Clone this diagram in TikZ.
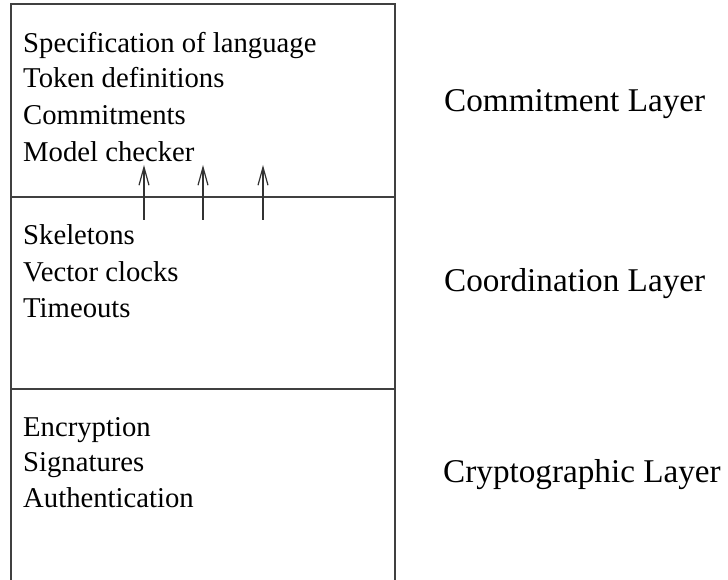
\documentclass[tikz,border=0pt]{standalone}
\usepackage{fontspec}
\setmainfont{Liberation Serif}
\usetikzlibrary{arrows.meta}
\tikzset{
  frame/.style={line width=1.2pt, draw=black!75},
  item/.style={anchor=base west, inner sep=0pt, font=\fontsize{28.7}{36}\selectfont},
  layer/.style={anchor=base west, inner sep=0pt, font=\fontsize{33.2}{40}\selectfont},
  uparrow/.style={line width=1.2pt, draw=black!80, -{Straight Barb[length=18pt, width=10pt, line width=1.2pt]}}
}
\begin{document}
\begin{tikzpicture}[x=1pt, y=1pt]
\useasboundingbox (0,0) rectangle (728,580);

% Drawing outer frame (open at the bottom)
\draw [frame] (11,0) -- (11,576) -- (395,576) -- (395,0);

% Drawing layer borders
\draw [frame] (11,383) -- (395,383);
\draw [frame] (11,191) -- (395,191);

% Commitment layer items
\node [item] (spec) at (23,527) {Specification of language};
\node [item] (token) at (23,492) {Token definitions};
\node [item] (commit) at (23,455) {Commitments};
\node [item] (model) at (23,418) {Model checker};

% Coordination layer items
\node [item] (skel) at (23,335) {Skeletons};
\node [item] (vclock) at (23,298) {Vector clocks};
\node [item] (tout) at (23,262) {Timeouts};

% Cryptographic layer items
\node [item] (encr) at (23,143) {Encryption};
\node [item] (sign) at (23,108) {Signatures};
\node [item] (auth) at (23,72) {Authentication};

% Layer names
\node [layer] (commitlayer) at (444,468) {Commitment Layer};
\node [layer] (coordlayer) at (444,288) {Coordination Layer};
\node [layer] (cryptolayer) at (443,97) {Cryptographic Layer};

% Arrows from coordination up into commitment layer
\coordinate (a1) at (144,360);
\coordinate (b1) at (144,415);
\coordinate (a2) at (203,360);
\coordinate (b2) at (203,415);
\coordinate (a3) at (263,360);
\coordinate (b3) at (263,415);
\draw [uparrow] (a1) -- (b1);
\draw [uparrow] (a2) -- (b2);
\draw [uparrow] (a3) -- (b3);
\end{tikzpicture}
\end{document}
